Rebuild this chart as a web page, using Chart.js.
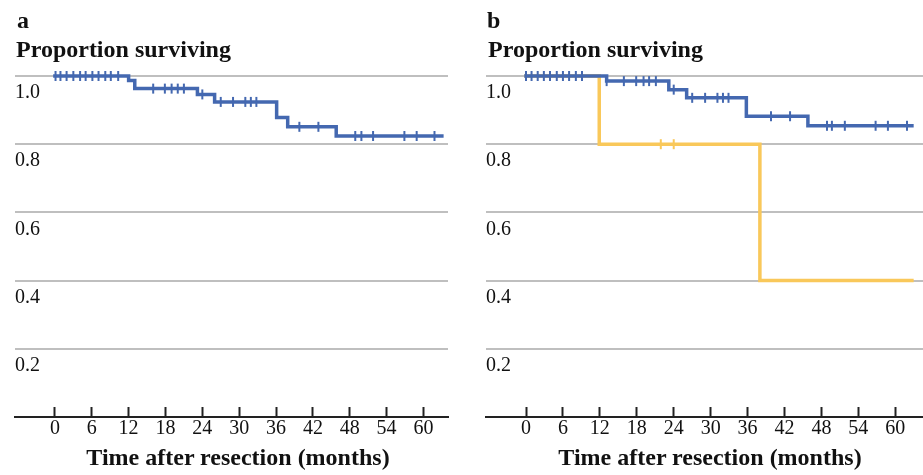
<!DOCTYPE html>
<html>
<head>
<meta charset="utf-8">
<script src="https://cdn.jsdelivr.net/npm/chart.js@4.4.1/dist/chart.umd.min.js"></script>
<style>
  body { margin: 0; background: #fff; overflow: hidden; }
  #wrap { position: relative; width: 923px; height: 475px; overflow: hidden; font-family: "Liberation Serif", "Times New Roman", serif; color: #111; }
  canvas { position: absolute; top: 0; }
  .lbl { position: absolute; font-weight: bold; font-size: 24px; line-height: 24px; white-space: nowrap; }
  .xt { width: 400px; text-align: center; }
</style>
</head>
<body>
<div id="wrap">
  <canvas id="chartA" width="461" height="475" style="left:0"></canvas>
  <canvas id="chartB" width="469" height="475" style="left:461px"></canvas>
  <div class="lbl" style="left:17px;top:8px">a</div>
  <div class="lbl" style="left:16px;top:37px">Proportion surviving</div>
  <div class="lbl" style="left:487px;top:8px">b</div>
  <div class="lbl" style="left:488px;top:37px">Proportion surviving</div>
  <div class="lbl xt" style="left:38px;top:445px">Time after resection (months)</div>
  <div class="lbl xt" style="left:510px;top:445px">Time after resection (months)</div>
</div>
<script>
const xTicks = [0, 6, 12, 18, 24, 30, 36, 42, 48, 54, 60];
const yTicks = [0, 0.2, 0.4, 0.6, 0.8, 1.0];
const yTickLabels = ['', '0.2', '0.4', '0.6', '0.8', '1.0'];

// panel a - all patients
const allTimes = [0, 12.0, 13.0, 23.2, 26.0, 36.1, 37.9, 45.8, 63.0];
const allSurv = [1, 0.987, 0.963, 0.946, 0.924, 0.878, 0.851, 0.824, 0.824];
const allCensored = [0.1, 0.9, 1.9, 3.0, 4.1, 5.0, 6.1, 7.1, 8.2, 9.1, 10.3, 16.0, 17.9, 19.0, 20.0, 21.0,
  24.0, 27.0, 29.0, 31.0, 31.9, 32.8, 39.8, 42.9, 48.9, 49.9, 51.8, 56.9, 58.9, 61.8];

// panel b - blue group
const blueTimes = [0, 13.1, 23.2, 26.1, 35.8, 45.8, 62.7];
const blueSurv = [1, 0.985, 0.960, 0.936, 0.882, 0.854, 0.854];
const blueCensored = [0, 0.9, 1.9, 2.9, 3.9, 5.0, 6.0, 7.0, 8.1, 9.1, 13.1, 15.9, 17.9, 19.1, 20.0, 21.1,
  24.0, 27.0, 29.1, 31.1, 32.0, 32.9, 39.8, 42.9, 48.9, 49.7, 51.8, 56.8, 58.8, 61.9];

// panel b - yellow group
const yellowTimes = [0, 11.9, 38.0, 62.7];
const yellowSurv = [1, 0.8, 0.4, 0.4];
const yellowCensored = [21.9, 24.0];

const BLUE = '#4468B0';
const YELLOW = '#F9C85A';
const GRID = '#BFBFBF';
const AXIS = '#222';

function survAt(times, surv, t) {
  let s = surv[0];
  for (let i = 0; i < times.length; i++) if (times[i] <= t) s = surv[i];
  return s;
}

function curve(times, surv) {
  return times.map((t, i) => ({ x: t, y: surv[i] }));
}

function marks(times, surv, cens) {
  return cens.map(t => ({ x: t, y: survAt(times, surv, t) }));
}

function lineSet(data, color) {
  return {
    data: data, borderColor: color, backgroundColor: color, borderWidth: 3.5,
    stepped: true, pointRadius: 0, fill: false, clip: false,
    borderCapStyle: 'square', borderJoinStyle: 'miter'
  };
}

function markSet(data, color) {
  return {
    data: data, showLine: false, pointStyle: 'line', rotation: 90, pointRadius: 5,
    pointBorderWidth: 2, pointBorderColor: color, borderColor: color, clip: false
  };
}

function makeOptions(pad, xMax) {
  return {
    responsive: false,
    animation: false,
    events: [],
    layout: { padding: pad },
    plugins: { legend: { display: false }, tooltip: { enabled: false } },
    scales: {
      x: {
        type: 'linear',
        min: -6.5,
        max: xMax,
        afterBuildTicks: (s) => { s.ticks = xTicks.map(v => ({ value: v })); },
        afterFit: (s) => { s.paddingLeft = 0; s.paddingRight = 0; },
        grid: { display: true, drawOnChartArea: false, drawTicks: true, tickLength: -10, tickColor: AXIS, tickWidth: 2 },
        border: { display: true, color: AXIS, width: 2 },
        ticks: {
          autoSkip: false, maxRotation: 0, padding: 10, color: '#111',
          font: { family: '"Liberation Serif", serif', size: 20 }
        }
      },
      y: {
        min: 0,
        max: 1,
        afterBuildTicks: (s) => { s.ticks = yTicks.map(v => ({ value: v })); },
        grid: {
          drawTicks: false, lineWidth: 2,
          color: (ctx) => ctx.tick && ctx.tick.value === 0 ? 'rgba(0,0,0,0)' : GRID
        },
        border: { display: false },
        ticks: {
          mirror: true, padding: 0, labelOffset: 17, color: '#111',
          font: { family: '"Liberation Serif", serif', size: 20 },
          callback: (v, i) => yTickLabels[i]
        }
      }
    }
  };
}

new Chart(document.getElementById('chartA'), {
  type: 'line',
  data: {
    datasets: [
      markSet(marks(allTimes, allSurv, allCensored), BLUE),
      lineSet(curve(allTimes, allSurv), BLUE)
    ]
  },
  options: makeOptions({ left: 15, right: 13, top: 76, bottom: 24 }, 64)
});

new Chart(document.getElementById('chartB'), {
  type: 'line',
  data: {
    datasets: [
      markSet(marks(blueTimes, blueSurv, blueCensored), BLUE),
      lineSet(curve(blueTimes, blueSurv), BLUE),
      markSet(marks(yellowTimes, yellowSurv, yellowCensored), YELLOW),
      lineSet(curve(yellowTimes, yellowSurv), YELLOW)
    ]
  },
  options: makeOptions({ left: 25, right: 0, top: 76, bottom: 24 }, 64.5)
});
</script>
</body>
</html>
